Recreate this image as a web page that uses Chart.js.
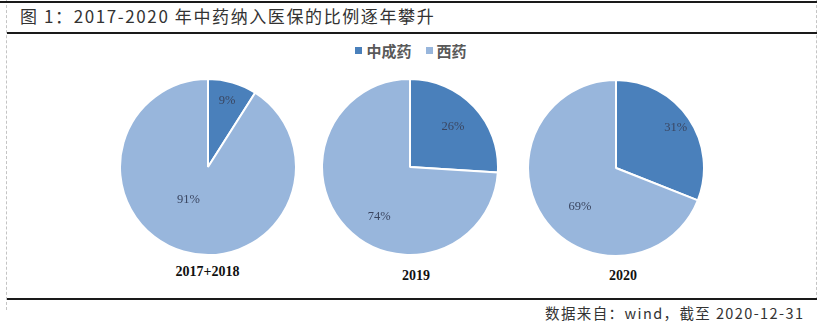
<!DOCTYPE html>
<html lang="zh-CN">
<head>
<meta charset="utf-8">
<title>中药纳入医保的比例</title>
<script src="https://cdn.jsdelivr.net/npm/chart.js@4.4.1/dist/chart.umd.min.js"></script>
<style>
  html, body { margin: 0; padding: 0; background: #fff; }
  body { position: relative; width: 822px; height: 329px; overflow: hidden;
         font-family: "Noto Sans CJK SC", "Noto Sans", sans-serif; }
  .abs { position: absolute; }
  .rule { position: absolute; background: #1a1a1a; }
  .dash { position: absolute; border-left: 1px dashed #c4c4c4; width: 0; }
  #title { left: 20px; top: 5px; font-size: 17px; line-height: 22px; color: #333;
           letter-spacing: 1.6px; white-space: nowrap; }
  #footer { left: 545px; top: 302px; font-size: 14.5px; line-height: 22px; color: #333;
            letter-spacing: 1.4px; white-space: nowrap; }
  #legend { left: 0; width: 822px; top: 41px; text-align: center; font-size: 15px;
            line-height: 20px; font-weight: bold; color: #595959; white-space: nowrap; }
  #legend span.item { display: inline-block; margin: 0 7px; }
  #legend i { display: inline-block; width: 7px; height: 7px; margin-right: 4px;
              vertical-align: 3px; }
  .cat { position: absolute; width: 120px; text-align: center;
         font-family: "Liberation Serif", "Times New Roman", serif; font-weight: bold;
         font-size: 14px; line-height: 16px; color: #111; }
  canvas.pie { position: absolute; }
</style>
</head>
<body>
<div class="dash" style="left:6px; top:0; height:310px;"></div>
<div class="dash" style="left:816px; top:0; height:300px;"></div>
<div class="rule" style="left:0; top:1px; width:817px; height:1.5px;"></div>
<div id="title" class="abs">图 1：2017-2020 年中药纳入医保的比例逐年攀升</div>
<div class="rule" style="left:7px; top:32px; width:810px; height:1.5px;"></div>
<div id="legend" class="abs"></div>
<div id="pies"></div>
<div class="rule" style="left:7px; top:298px; width:810px; height:1.5px;"></div>
<div id="footer" class="abs">数据来自：wind，截至 2020-12-31</div>

<script>
// Shares (%) of medicines admitted to the insurance catalogue, per period
const categories   = ['2017+2018', '2019', '2020'];
const seriesNames  = ['中成药', '西药'];
const tcmShare     = [9, 26, 31];
const westernShare = [91, 74, 69];

// Presentation
const sliceColors = ['#4a80bb', '#98b6dc'];
const pieCenters  = [[207.5, 166.5], [409.5, 166.5], [616, 168]];
const pieRadius   = 88;
const sliceBorder = 2;
const catLabelPos = [[207.5, 272], [416, 276], [623, 276]];
// Percentage label anchor: fraction of radius, optional angle (deg, clockwise from top)
const labelAnchor = [
  [{ r: 0.78 }, { r: 0.43, deg: 211 }],
  [{ r: 0.67 }, { r: 0.66, deg: 212 }],
  [{ r: 0.82 }, { r: 0.60, deg: 223 }]
];

// Legend
const legend = document.getElementById('legend');
seriesNames.forEach((name, i) => {
  const s = document.createElement('span');
  s.className = 'item';
  s.innerHTML = '<i style="background:' + sliceColors[i] + '"></i>' + name;
  legend.appendChild(s);
});

// Percentage labels inside the slices
const pctLabels = {
  id: 'pctLabels',
  afterDatasetsDraw(chart) {
    const ctx = chart.ctx;
    const idx = chart.options.plugins.pctLabels.index;
    const meta = chart.getDatasetMeta(0);
    const data = chart.data.datasets[0].data;
    ctx.save();
    ctx.font = '12.5px "Liberation Serif", "Times New Roman", serif';
    ctx.fillStyle = '#3a4560';
    ctx.textAlign = 'center';
    ctx.textBaseline = 'middle';
    meta.data.forEach((arc, i) => {
      const p = arc.getProps(['x', 'y', 'startAngle', 'endAngle', 'outerRadius'], true);
      const a = labelAnchor[idx][i];
      const ang = a.deg !== undefined ? (a.deg - 90) * Math.PI / 180
                                      : (p.startAngle + p.endAngle) / 2;
      const rr = p.outerRadius * a.r;
      ctx.fillText(data[i] + '%', p.x + Math.cos(ang) * rr, p.y + Math.sin(ang) * rr);
    });
    ctx.restore();
  }
};

const holder = document.getElementById('pies');
categories.forEach((cat, k) => {
  const size = pieRadius * 2 + sliceBorder;
  const cv = document.createElement('canvas');
  cv.className = 'pie';
  cv.width = size; cv.height = size;
  cv.style.width = size + 'px'; cv.style.height = size + 'px';
  cv.style.left = (pieCenters[k][0] - size / 2) + 'px';
  cv.style.top  = (pieCenters[k][1] - size / 2) + 'px';
  holder.appendChild(cv);

  const lab = document.createElement('div');
  lab.className = 'cat';
  lab.textContent = cat;
  lab.style.left = (catLabelPos[k][0] - 60) + 'px';
  lab.style.top  = (catLabelPos[k][1] - 8) + 'px';
  holder.appendChild(lab);

  new Chart(cv, {
    type: 'pie',
    data: {
      labels: seriesNames,
      datasets: [{
        data: [tcmShare[k], westernShare[k]],
        backgroundColor: sliceColors,
        borderColor: '#ffffff',
        borderWidth: sliceBorder
      }]
    },
    options: {
      responsive: false,
      animation: false,
      layout: { padding: 0 },
      plugins: {
        legend: { display: false },
        tooltip: { enabled: false },
        title: { display: false },
        pctLabels: { index: k }
      }
    },
    plugins: [pctLabels]
  });
});
</script>
</body>
</html>
